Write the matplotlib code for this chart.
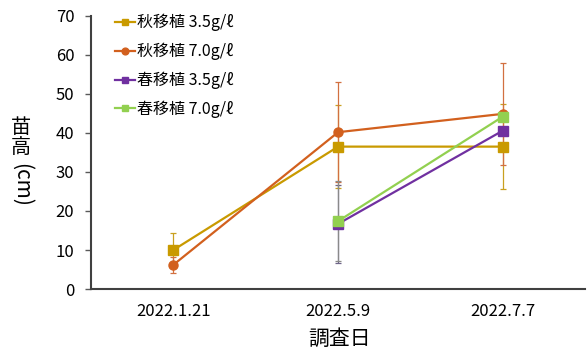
import matplotlib
matplotlib.use("Agg")
import matplotlib.pyplot as plt
import numpy as np

plt.rcParams['font.family'] = ['Noto Sans CJK JP', 'DejaVu Sans']

dates = ["2022.1.21", "2022.5.9", "2022.7.7"]
labels = ["秋移植 3.5g/ℓ", "秋移植 7.0g/ℓ", "春移植 3.5g/ℓ", "春移植 7.0g/ℓ"]

aut35 = [10.0, 36.5, 36.5]
aut35_err = [4.4, 10.7, 10.9]
aut70 = [6.2, 40.2, 44.9]
aut70_err = [2.1, 12.8, 13.0]
spr35 = [np.nan, 16.7, 40.6]
spr35_err = [0, 10.0, 0]
spr70 = [np.nan, 17.4, 44.2]
spr70_err = [0, 10.2, 0]

colors = ["#C99A00", "#D2601E", "#7030A0", "#92D050"]
err_colors = ["#C9A020", "#D27040", "#6E6488", "#8A8A8A"]
markers = ["s", "o", "s", "s"]

fig = plt.figure(figsize=(5.87, 3.51), dpi=100)
ax = fig.add_axes([0.155, 0.1766, 0.842, 0.778])

x = np.arange(len(dates)) + 0.5
series = [(aut35, aut35_err), (aut70, aut70_err), (spr35, spr35_err), (spr70, spr70_err)]
for (vals, errs), c, ec, m, lab in zip(series, colors, err_colors, markers, labels):
    vals = np.array(vals, dtype=float)
    errs = np.array(errs, dtype=float)
    mask = ~np.isnan(vals) & (errs > 0)
    ax.errorbar(x[mask], vals[mask], yerr=errs[mask], fmt="none", ecolor=ec,
                elinewidth=0.9, capsize=2, capthick=0.9, zorder=2)
    ax.plot(x, vals, color=c, marker=m, markersize=6.5, linewidth=1.6,
            label=lab, zorder=3)

ax.set_xlim(0, 3)
ax.set_ylim(0, 70)
ax.set_yticks(range(0, 71, 10))
ax.set_xticks(x)
ax.set_xticklabels(dates)
ax.tick_params(axis="x", length=0, pad=10, labelsize=12)
ax.tick_params(axis="y", length=4, width=1, color="#595959", pad=8, labelsize=12)
for s in ["top", "right"]:
    ax.spines[s].set_visible(False)
for s in ["left", "bottom"]:
    ax.spines[s].set_color("#404040")
    ax.spines[s].set_linewidth(1.5)

leg = ax.legend(loc="upper left", bbox_to_anchor=(0.02, 1.06), frameon=False,
                fontsize=11.5, labelspacing=0.72, handlelength=1.25,
                handletextpad=0.12, markerscale=0.75)

fig.text(0.578, 0.004, "調査日", ha="center", va="bottom", fontsize=15)
fig.text(0.036, 0.638, "苗", ha="center", va="center", fontsize=14.5)
fig.text(0.036, 0.581, "高", ha="center", va="center", fontsize=14.5)
fig.text(0.036, 0.473, "(cm)", ha="center", va="center", fontsize=15, rotation=-90)

fig.savefig("out.png", dpi=100)
